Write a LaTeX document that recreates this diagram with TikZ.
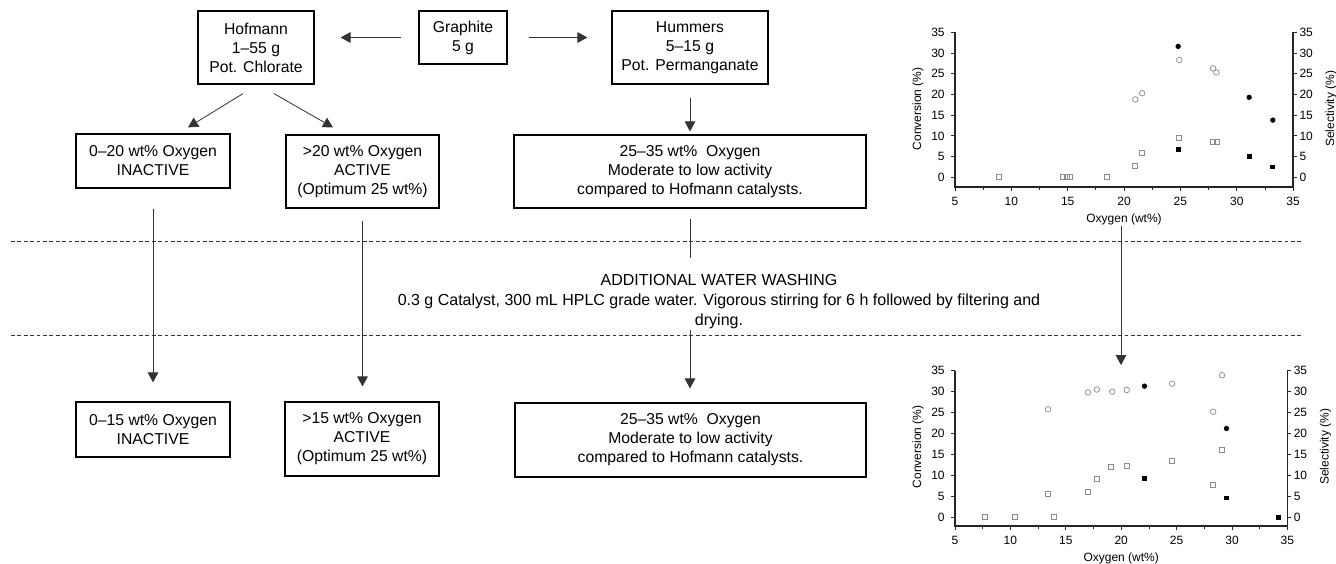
\documentclass[tikz,border=0pt]{standalone}
\usepackage{fontspec}
\setmainfont{Liberation Sans}
\usetikzlibrary{arrows.meta}

\begin{document}
\begin{tikzpicture}[x=0.75pt,y=-0.75pt,
				box/.style={draw,line width=0.9pt,align=center,inner sep=0pt,font=\fontsize{11.8}{14.2}\selectfont},
				arr/.style={-{Triangle[length=7.5pt,width=8pt]},line width=0.6pt,draw=black!80},
				cut/.style={draw=black!80,line width=0.6pt,dash pattern=on 2.8pt off 2pt},
				axis/.style={line width=1.3pt,draw=black!85},
				tick/.style={font=\fontsize{9}{10}\selectfont,inner sep=1pt},
				ocirc/.style={draw=black!45,line width=0.55pt},
				dot/.style={fill=black}]
\useasboundingbox (0,0) rectangle (1336,564);

% preparation
\node[box,minimum width=66pt,minimum height=39.75pt] (graph) at (463,37.5) {Graphite\\5 g};
\node[box,minimum width=87pt,minimum height=54.75pt] (hof) at (256,47.5) {Hofmann\\1–55 g\\Pot. Chlorate};
\node[box,minimum width=117pt,minimum height=54.75pt] (hum) at (690,47.5) {Hummers\\5–15 g\\Pot. Permanganate};
\node[box,minimum width=115.5pt,minimum height=40.5pt] (inact1) at (153,161) {0–20 wt\% Oxygen\\INACTIVE};
\node[box,minimum width=114.75pt,minimum height=54.75pt] (act1) at (362.5,171.5) {>20 wt\% Oxygen\\ACTIVE\\(Optimum 25 wt\%)};
\node[box,minimum width=264pt,minimum height=54.75pt] (res1) at (690,171.5) {25–35 wt\% \ Oxygen\\Moderate to low activity\\compared to Hofmann catalysts.};

\draw[arr,shorten <=12.75pt,shorten >=19.5pt] (graph.west) -- (graph.west -| hof.east);
\draw[arr,shorten <=15.75pt,shorten >=18pt] (graph.east) -- (graph.east -| hum.west);
\draw[arr] ([shift={(-13,9)}]hof.south) -- ([shift={(35,-6)}]inact1.north);
\draw[arr] ([shift={(18,9)}]hof.south) -- ([shift={(-29.5,-7)}]act1.north);
\draw[arr,shorten <=9.75pt,shorten >=2.25pt] (hum.south) -- (res1.north);

% washing step
\coordinate (d1a) at (11,241);
\coordinate (d1b) at (1302,241);
\coordinate (d2a) at (11,335);
\coordinate (d2b) at (1302,335);
\draw[cut] (d1a) -- (d1b);
\draw[cut] (d2a) -- (d2b);
\node[font=\fontsize{12}{15}\selectfont,align=center] (wash) at (719,301.7) {ADDITIONAL WATER WASHING\\0.3 g Catalyst, 300 mL HPLC grade water. Vigorous stirring for 6 h followed by filtering and\\drying.};

% after washing
\node[box,minimum width=115.5pt,minimum height=41.25pt] (inact2) at (153,429.5) {0–15 wt\% Oxygen\\INACTIVE};
\node[box,minimum width=115.5pt,minimum height=55.5pt] (act2) at (362,439) {>15 wt\% Oxygen\\ACTIVE\\(Optimum 25 wt\%)};
\node[box,minimum width=263.25pt,minimum height=55.5pt] (res2) at (690.5,440) {25–35 wt\% \ Oxygen\\Moderate to low activity\\compared to Hofmann catalysts.};

\coordinate (w1) at (690,258);
\coordinate (w2) at (690,330);
\draw[arr,shorten <=15pt,shorten >=14.25pt] (inact1.south) -- (inact2.north);
\draw[arr,shorten <=9pt,shorten >=11.25pt] (act1.south) -- (act1.south |- act2.north);
\draw[line width=0.6pt,draw=black!80,shorten <=7.5pt] (res1.south) -- (w1);
\draw[arr,shorten >=10.5pt] (w2) -- (w2 |- res2.north);

% chart before washing
\begin{scope}[shift={(955,177.3)},x=8.4525pt,y=3.107pt]
	\draw[axis] (0,35) -- (0,-2.3) -- (30,-2.3) -- (30,35);
	\foreach \v in {0,5,...,35}{
		\draw[axis,line width=0.6pt] (0,\v) -- ++(-3pt,0) node[tick,left=3.5pt] (cl\v) {\v};
		\draw[axis,line width=0.6pt] (30,\v) -- ++(3pt,0) node[tick,right=0.5pt] (sl\v) {\v};
	}
	\foreach \v in {5,10,...,35}{
		\draw[axis,line width=0.6pt] (\v-5,-2.3) -- ++(0,-3pt);
		\node[tick] (ox\v) at ([yshift=-11.25pt]\v-5,-2.3) {\v};
	}
	\foreach \v in {7.5,12.5,...,32.5}
		\draw[axis,line width=0.6pt] (\v-5,-2.3) -- ++(0,-2.5pt);
	\node[tick,rotate=90] (conv1) at ([xshift=-27.75pt]0,16.5) {Conversion (\%)};
	\node[tick,rotate=90] (sel1) at ([xshift=28.5pt]30,16.5) {Selectivity (\%)};
	\node[tick] (oxy1) at ([yshift=-24.5pt]15,-2.3) {Oxygen (wt\%)};
	% selectivity / conversion points
	\foreach \a/\b in {21.0/18.8,21.6/20.3,24.9/28.3,27.9/26.3,28.2/25.3}
		\draw[ocirc] (\a-5,\b) circle[radius=2.1pt];
	\foreach \a/\b in {8.9/0,14.6/0,14.9/0,15.2/0,18.5/0,21.0/2.8,21.6/6.0,24.9/9.6,27.9/8.6,28.2/8.6}
		\draw[ocirc] (\a-5,\b) +(-1.9pt,-1.9pt) rectangle +(1.9pt,1.9pt);
	\foreach \a/\b in {24.8/31.6,31.1/19.3,33.2/13.8}
		\fill[dot] (\a-5,\b) circle[radius=2pt];
	\foreach \a/\b in {24.8/6.8,31.1/5.0,33.2/2.5}
		\fill[dot] (\a-5,\b) +(-1.8pt,-1.8pt) rectangle +(1.8pt,1.8pt);
\end{scope}

\coordinate (c1) at (1121,226);
\coordinate (c2) at (1121,365);
\draw[arr] (c1) -- (c2);

% chart after washing
\begin{scope}[shift={(955,517.3)},x=8.31pt,y=3.1425pt]
	\draw[axis] (0,35) -- (0,-2) -- (30,-2) -- (30,35);
	\foreach \v in {0,5,...,35}{
		\draw[axis,line width=0.6pt] (0,\v) -- ++(-3pt,0) node[tick,left=3.5pt] (cm\v) {\v};
		\draw[axis,line width=0.6pt] (30,\v) -- ++(3pt,0) node[tick,right=0.5pt] (sm\v) {\v};
	}
	\foreach \v in {5,10,...,35}{
		\draw[axis,line width=0.6pt] (\v-5,-2) -- ++(0,-3pt);
		\node[tick] (oy\v) at ([yshift=-11.25pt]\v-5,-2) {\v};
	}
	\foreach \v in {7.5,12.5,...,32.5}
		\draw[axis,line width=0.6pt] (\v-5,-2) -- ++(0,-2.5pt);
	\node[tick,rotate=90] (conv2) at ([xshift=-27.75pt]0,16.8) {Conversion (\%)};
	\node[tick,rotate=90] (sel2) at ([xshift=28.5pt]30,16.8) {Selectivity (\%)};
	\node[tick] (oxy2) at ([yshift=-24.5pt]15,-2) {Oxygen (wt\%)};
	% selectivity / conversion points
	\foreach \a/\b in {13.4/25.8,17.0/29.8,17.8/30.5,19.2/30.0,20.5/30.4,24.6/31.9,28.3/25.2,29.1/33.9}
		\draw[ocirc] (\a-5,\b) circle[radius=2.1pt];
	\foreach \a/\b in {7.7/0,10.4/0,13.9/0,13.4/5.6,17.0/6.1,17.8/9.1,19.1/12.1,20.5/12.2,24.6/13.4,28.3/7.7,29.1/16.1}
		\draw[ocirc] (\a-5,\b) +(-1.9pt,-1.9pt) rectangle +(1.9pt,1.9pt);
	\foreach \a/\b in {22.1/31.3,29.5/21.2}
		\fill[dot] (\a-5,\b) circle[radius=2pt];
	\foreach \a/\b in {22.1/9.2,29.5/4.6,34.2/0}
		\fill[dot] (\a-5,\b) +(-1.8pt,-1.8pt) rectangle +(1.8pt,1.8pt);
\end{scope}
\end{tikzpicture}
\end{document}
